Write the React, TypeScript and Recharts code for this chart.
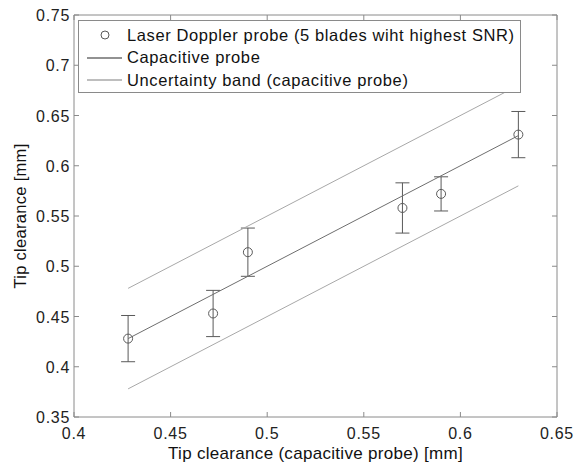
import React from "react";
import {
  ComposedChart,
  Scatter,
  XAxis,
  YAxis,
  ErrorBar,
  Legend,
  Label,
} from "recharts";

const capClearance = [0.428, 0.472, 0.49, 0.57, 0.59, 0.63];
const ldvClearance = [0.428, 0.453, 0.514, 0.558, 0.572, 0.631];
const ldvError = [0.023, 0.023, 0.024, 0.025, 0.017, 0.023];

const capLineX = [0.428, 0.63];
const bandOffset = 0.05;

const xTicks = [0.4, 0.45, 0.5, 0.55, 0.6, 0.65];
const yTicks = [0.35, 0.4, 0.45, 0.5, 0.55, 0.6, 0.65, 0.7, 0.75];

const legendLabels = [
  "Laser Doppler probe (5 blades wiht highest SNR)",
  "Capacitive probe",
  "Uncertainty band (capacitive probe)",
];

const ldvData = capClearance.map((x, i) => ({ x, y: ldvClearance[i], err: ldvError[i] }));
const capData = capLineX.map((x) => ({ x, y: x }));
const upperData = capLineX.map((x) => ({ x, y: x + bandOffset }));
const lowerData = capLineX.map((x) => ({ x, y: x - bandOffset }));

const FONT = "'Liberation Sans', Arial, sans-serif";
const AXIS = "#8a8a8a";
const MARK = "#5a5a5a";
const CAP_LINE = "#6e6e6e";
const BAND = "#a8a8a8";

const fmt = (v: number) => String(+v.toFixed(2));

const BottomTick = (props: any) => {
  const { x, y, payload } = props;
  return (
    <g>
      <line x1={x} y1={y} x2={x} y2={y - 5} stroke={AXIS} />
      <text x={x} y={y + 22} textAnchor="middle" fontSize={16} letterSpacing={0.7} fill="#222" fontFamily={FONT}>
        {fmt(payload.value)}
      </text>
    </g>
  );
};

const TopTick = (props: any) => {
  const { x, y } = props;
  return <line x1={x} y1={y} x2={x} y2={y + 5} stroke={AXIS} />;
};

const LeftTick = (props: any) => {
  const { x, y, payload } = props;
  return (
    <g>
      <line x1={x} y1={y} x2={x + 5} y2={y} stroke={AXIS} />
      <text x={x - 4} y={y + 6} textAnchor="end" fontSize={16} letterSpacing={0.7} fill="#222" fontFamily={FONT}>
        {fmt(payload.value)}
      </text>
    </g>
  );
};

const RightTick = (props: any) => {
  const { x, y } = props;
  return <line x1={x} y1={y} x2={x - 5} y2={y} stroke={AXIS} />;
};

const Ring = (props: any) => {
  const { cx, cy } = props;
  return <circle cx={cx} cy={cy} r={4.5} fill="none" stroke={MARK} strokeWidth={1} />;
};

const NoShape = () => null;

const LegendBox = () => (
  <div
    style={{
      width: 441,
      height: 71,
      border: `1px solid ${AXIS}`,
      background: "#fff",
      fontFamily: FONT,
      fontSize: 16.5,
      letterSpacing: 0.6,
      color: "#111",
      boxSizing: "content-box",
    }}
  >
    {legendLabels.map((label, i) => (
      <div key={label} style={{ display: "flex", alignItems: "center", height: 22.5, marginTop: i === 0 ? 3 : 0 }}>
        <svg width={48} height={20} style={{ flex: "none" }}>
          {i === 0 ? (
            <circle cx={26} cy={10} r={4} fill="none" stroke={MARK} />
          ) : (
            <line x1={8} y1={10} x2={43} y2={10} stroke={i === 1 ? CAP_LINE : BAND} strokeWidth={1.5} />
          )}
        </svg>
        <span style={{ whiteSpace: "nowrap" }}>{label}</span>
      </div>
    ))}
  </div>
);

export default function App() {
  return (
    <div style={{ width: 576, height: 460, background: "#fff" }}>
      <ComposedChart width={576} height={460} margin={{ top: 6, right: 26, bottom: 11, left: 6 }}>
        <XAxis
          xAxisId="b"
          type="number"
          dataKey="x"
          domain={[0.4, 0.65]}
          ticks={xTicks}
          allowDataOverflow
          height={40}
          tickSize={0}
          tickMargin={0}
          tickLine={false}
          axisLine={{ stroke: AXIS }}
          tick={<BottomTick />}
          interval={0}
        >
          <Label
            value="Tip clearance (capacitive probe) [mm]"
            position="insideBottom"
            offset={-2}
            style={{ fontSize: 17, fontFamily: FONT, fill: "#111", letterSpacing: 0.3 }}
          />
        </XAxis>
        <XAxis
          xAxisId="t"
          orientation="top"
          type="number"
          dataKey="x"
          domain={[0.4, 0.65]}
          ticks={xTicks}
          allowDataOverflow
          height={1}
          tickSize={0}
          tickMargin={0}
          tickLine={false}
          axisLine={{ stroke: AXIS }}
          tick={<TopTick />}
          interval={0}
        />
        <YAxis
          yAxisId="l"
          type="number"
          dataKey="y"
          domain={[0.35, 0.75]}
          ticks={yTicks}
          allowDataOverflow
          width={60}
          tickSize={0}
          tickMargin={0}
          tickLine={false}
          axisLine={{ stroke: AXIS }}
          tick={<LeftTick />}
          interval={0}
        >
          <Label
            content={({ viewBox }: any) => (
              <text
                transform={`translate(18, ${viewBox.y + viewBox.height / 2}) rotate(-90)`}
                textAnchor="middle"
                fontSize={16.5}
                fontFamily={FONT}
                fill="#111"
                letterSpacing={0.3}
              >
                Tip clearance [mm]
              </text>
            )}
          />
        </YAxis>
        <YAxis
          yAxisId="r"
          orientation="right"
          type="number"
          dataKey="y"
          domain={[0.35, 0.75]}
          ticks={yTicks}
          allowDataOverflow
          width={1}
          tickSize={0}
          tickMargin={0}
          tickLine={false}
          axisLine={{ stroke: AXIS }}
          tick={<RightTick />}
          interval={0}
        />
        <Scatter
          xAxisId="b"
          yAxisId="l"
          data={upperData}
          line={{ stroke: BAND, strokeWidth: 1 }}
          shape={<NoShape />}
          isAnimationActive={false}
        />
        <Scatter
          xAxisId="b"
          yAxisId="l"
          data={lowerData}
          line={{ stroke: BAND, strokeWidth: 1 }}
          shape={<NoShape />}
          isAnimationActive={false}
        />
        <Scatter
          xAxisId="b"
          yAxisId="l"
          data={capData}
          line={{ stroke: CAP_LINE, strokeWidth: 1 }}
          shape={<NoShape />}
          isAnimationActive={false}
        />
        <Scatter
          xAxisId="b"
          yAxisId="l"
          data={ldvData}
          shape={<Ring />}
          isAnimationActive={false}
        >
          <ErrorBar dataKey="err" direction="y" width={7} stroke={MARK} strokeWidth={1} />
        </Scatter>
        <Legend
          layout="horizontal"
          verticalAlign="middle"
          align="center"
          content={<LegendBox />}
          wrapperStyle={{ position: "absolute", top: 12, left: 70, width: "auto" }}
        />
      </ComposedChart>
    </div>
  );
}
